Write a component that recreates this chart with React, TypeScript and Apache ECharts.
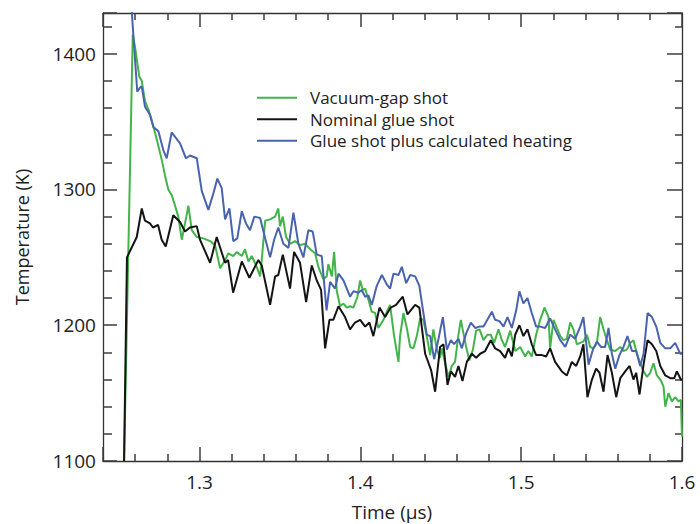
import React, { useEffect, useRef } from "react";
import * as echarts from "echarts";

const seriesNames = [
  "Vacuum-gap shot",
  "Nominal glue shot",
  "Glue shot plus calculated heating",
];

const xTickLabels = ["1.3", "1.4", "1.5", "1.6"];
const yTickLabels = ["1100", "1200", "1300", "1400"];

const vacuumGap = [
  [1.2531, 1100], [1.2585, 1414], [1.2599, 1405], [1.2626, 1383], [1.2641, 1380], [1.2661, 1365],
  [1.2682, 1359], [1.2703, 1351], [1.2734, 1337], [1.2765, 1322], [1.2786, 1310], [1.2806, 1300],
  [1.2827, 1296], [1.2848, 1288], [1.2868, 1280], [1.289, 1263], [1.291, 1275], [1.2931, 1288],
  [1.2952, 1270], [1.2983, 1265], [1.3024, 1264], [1.3066, 1262], [1.3097, 1259], [1.3128, 1242],
  [1.3159, 1248], [1.3179, 1253], [1.321, 1251], [1.3232, 1254], [1.3263, 1251], [1.3283, 1256],
  [1.3304, 1247], [1.3325, 1251], [1.3356, 1243], [1.3377, 1236], [1.3387, 1248], [1.3408, 1277],
  [1.3439, 1278], [1.347, 1280], [1.349, 1286], [1.3501, 1273], [1.3518, 1280], [1.3538, 1265],
  [1.3563, 1260], [1.3594, 1262], [1.3625, 1259], [1.3656, 1260], [1.3688, 1256], [1.3719, 1253],
  [1.3739, 1243], [1.377, 1234], [1.3791, 1236], [1.3801, 1245], [1.3823, 1236], [1.3837, 1254],
  [1.3854, 1225], [1.3874, 1214], [1.3895, 1216], [1.3916, 1213], [1.3936, 1214], [1.3957, 1213],
  [1.3982, 1221], [1.3999, 1233], [1.4015, 1226], [1.403, 1227], [1.405, 1219], [1.4071, 1210],
  [1.4092, 1209], [1.4112, 1198], [1.4144, 1204], [1.4165, 1210], [1.4185, 1215], [1.421, 1192],
  [1.4237, 1173], [1.4247, 1192], [1.4268, 1209], [1.4289, 1198], [1.431, 1184], [1.433, 1183],
  [1.4351, 1192], [1.4372, 1205], [1.4392, 1204], [1.4413, 1192], [1.4434, 1178], [1.4454, 1197],
  [1.4476, 1182], [1.4496, 1176], [1.4507, 1183], [1.4527, 1172], [1.4548, 1162], [1.4569, 1170],
  [1.4589, 1173], [1.461, 1193], [1.4625, 1204], [1.4641, 1194], [1.4658, 1184], [1.4678, 1174],
  [1.47, 1182], [1.472, 1196], [1.4741, 1197], [1.4766, 1189], [1.479, 1193], [1.4811, 1193],
  [1.4832, 1187], [1.4859, 1197], [1.488, 1189], [1.49, 1184], [1.4932, 1196], [1.4963, 1181],
  [1.4994, 1184], [1.5025, 1177], [1.5045, 1181], [1.5066, 1177], [1.5093, 1193], [1.5118, 1204],
  [1.5145, 1213], [1.517, 1206], [1.518, 1183], [1.5201, 1204], [1.5222, 1198], [1.5243, 1192],
  [1.5263, 1189], [1.5284, 1190], [1.5305, 1202], [1.5325, 1197], [1.5346, 1186], [1.5367, 1187],
  [1.5387, 1188], [1.5409, 1193], [1.5429, 1184], [1.545, 1183], [1.5471, 1187], [1.5491, 1206],
  [1.5512, 1197], [1.5533, 1189], [1.5554, 1182], [1.5585, 1181], [1.5616, 1184], [1.5636, 1181],
  [1.5657, 1182], [1.5678, 1187], [1.5698, 1189], [1.572, 1179], [1.574, 1172], [1.5761, 1166],
  [1.5782, 1162], [1.5802, 1165], [1.5823, 1172], [1.5844, 1163], [1.5865, 1160], [1.5885, 1155],
  [1.5896, 1140], [1.5916, 1150], [1.5937, 1144], [1.5958, 1147], [1.5978, 1144], [1.5993, 1145],
  [1.6, 1118],
];

const nominalGlue = [
  [1.2531, 1100], [1.2549, 1250], [1.261, 1265], [1.2641, 1286], [1.2661, 1277], [1.2692, 1275],
  [1.2711, 1272], [1.2742, 1274], [1.2765, 1263], [1.279, 1258], [1.2837, 1281], [1.2879, 1276],
  [1.291, 1269], [1.2941, 1272], [1.2983, 1273], [1.3003, 1263], [1.3066, 1246], [1.3107, 1265],
  [1.3159, 1246], [1.3178, 1248], [1.3209, 1224], [1.3263, 1247], [1.331, 1235], [1.3366, 1248],
  [1.3387, 1244], [1.3439, 1215], [1.347, 1236], [1.349, 1237], [1.3518, 1252], [1.3563, 1227],
  [1.3588, 1254], [1.3625, 1246], [1.3663, 1217], [1.3698, 1244], [1.3729, 1233], [1.3756, 1226],
  [1.3781, 1183], [1.3808, 1204], [1.3832, 1204], [1.3864, 1214], [1.3905, 1206], [1.3936, 1197],
  [1.3967, 1202], [1.3999, 1204], [1.403, 1199], [1.4056, 1202], [1.4081, 1192], [1.4119, 1213],
  [1.4154, 1206], [1.4189, 1213], [1.4222, 1215], [1.4264, 1221], [1.4293, 1208], [1.4341, 1215],
  [1.4367, 1213], [1.4403, 1179], [1.444, 1167], [1.4465, 1151], [1.4496, 1184], [1.4517, 1186],
  [1.4542, 1156], [1.4563, 1166], [1.4589, 1162], [1.461, 1170], [1.4635, 1159], [1.4662, 1173],
  [1.4693, 1179], [1.472, 1176], [1.4745, 1179], [1.4776, 1181], [1.4811, 1189], [1.4838, 1183],
  [1.4869, 1181], [1.49, 1176], [1.4921, 1183], [1.4942, 1177], [1.4963, 1193], [1.4989, 1200],
  [1.5014, 1192], [1.5039, 1197], [1.5066, 1186], [1.5093, 1178], [1.5129, 1178], [1.5155, 1177],
  [1.518, 1183], [1.5211, 1173], [1.5253, 1166], [1.5284, 1163], [1.5315, 1173], [1.5342, 1170],
  [1.5367, 1177], [1.5387, 1186], [1.5412, 1147], [1.544, 1160], [1.5466, 1168], [1.5487, 1165],
  [1.5512, 1151], [1.5537, 1178], [1.5564, 1165], [1.5591, 1147], [1.5616, 1161], [1.5647, 1166],
  [1.5674, 1170], [1.5698, 1160], [1.5715, 1165], [1.5736, 1149], [1.5761, 1171], [1.5786, 1189],
  [1.5813, 1186], [1.584, 1181], [1.5865, 1170], [1.5896, 1163], [1.5927, 1161], [1.5952, 1161],
  [1.5968, 1166], [1.5993, 1160], [1.6, 1160],
];

const glueHeated = [
  [1.2571, 1445], [1.2588, 1415], [1.2613, 1372], [1.263, 1375], [1.2641, 1376], [1.2661, 1361],
  [1.2692, 1355], [1.2713, 1346], [1.2744, 1343], [1.2775, 1329], [1.2796, 1323], [1.2827, 1342],
  [1.2879, 1334], [1.2916, 1323], [1.2941, 1325], [1.2983, 1323], [1.3014, 1299], [1.3055, 1285],
  [1.3086, 1297], [1.3111, 1308], [1.3138, 1301], [1.3159, 1278], [1.3186, 1286], [1.321, 1262],
  [1.3235, 1264], [1.3263, 1284], [1.3289, 1275], [1.3314, 1270], [1.3341, 1280], [1.3377, 1279],
  [1.3408, 1264], [1.3439, 1250], [1.3464, 1263], [1.349, 1272], [1.3521, 1260], [1.3553, 1257],
  [1.3584, 1283], [1.3615, 1260], [1.3646, 1250], [1.3677, 1270], [1.3704, 1269], [1.3729, 1252],
  [1.376, 1251], [1.379, 1211], [1.3812, 1232], [1.3843, 1227], [1.3864, 1238], [1.3895, 1233],
  [1.3916, 1227], [1.3936, 1221], [1.3957, 1225], [1.3988, 1224], [1.4009, 1226], [1.403, 1221],
  [1.405, 1222], [1.4071, 1215], [1.4102, 1229], [1.4134, 1237], [1.4165, 1230], [1.4185, 1227],
  [1.4206, 1238], [1.4237, 1237], [1.4258, 1243], [1.4285, 1231], [1.431, 1237], [1.4341, 1236],
  [1.4367, 1229], [1.4392, 1209], [1.4413, 1193], [1.4434, 1192], [1.4459, 1175], [1.4486, 1190],
  [1.4513, 1206], [1.4538, 1182], [1.4563, 1189], [1.4583, 1186], [1.461, 1190], [1.4631, 1183],
  [1.4658, 1194], [1.4687, 1202], [1.4714, 1198], [1.4741, 1199], [1.4766, 1199], [1.479, 1204],
  [1.4818, 1210], [1.4838, 1204], [1.4865, 1203], [1.489, 1199], [1.4915, 1206], [1.4942, 1198],
  [1.4969, 1211], [1.4989, 1225], [1.5014, 1216], [1.5039, 1220], [1.5066, 1209], [1.5093, 1199],
  [1.5118, 1199], [1.5149, 1198], [1.518, 1205], [1.5211, 1197], [1.5243, 1189], [1.5274, 1184],
  [1.5305, 1193], [1.5336, 1190], [1.5367, 1199], [1.5387, 1206], [1.5419, 1171], [1.5446, 1182],
  [1.5471, 1188], [1.5496, 1184], [1.5522, 1184], [1.5543, 1198], [1.5564, 1179], [1.5585, 1168],
  [1.5611, 1178], [1.5636, 1184], [1.5661, 1192], [1.5689, 1181], [1.5715, 1181], [1.574, 1170],
  [1.5761, 1179], [1.5786, 1209], [1.5813, 1206], [1.584, 1199], [1.5865, 1187], [1.5896, 1183],
  [1.5927, 1183], [1.5958, 1187], [1.5989, 1179], [1.6, 1179],
];

const seriesColors = ["#43b44a", "#141414", "#4a63ae"];
const FONT = "'Open Sans', 'DejaVu Sans', sans-serif";

export default function App() {
  const ref = useRef<HTMLDivElement>(null);
  useEffect(() => {
    if (!ref.current) return;
    const chart = echarts.init(ref.current, undefined, { renderer: "svg" });
    const axisLineStyle = { color: "#333333", width: 1.3 };
    const tickStyle = () => ({ color: "rgb(60,60,60)", width: 1.5 });
    const xFmt = (v: number) => {
      const s = String(Math.round(v * 1000) / 1000);
      return xTickLabels.includes(s) ? s : "";
    };
    const yFmt = (v: number) => {
      const s = String(Math.round(v));
      return yTickLabels.includes(s) ? s : "";
    };
    const xBase = () => ({
      type: "value",
      min: 1.24,
      max: 1.6,
      splitLine: { show: false },
      axisLine: { show: true, onZero: false, lineStyle: { ...axisLineStyle } },
      axisTick: { show: true, inside: true, length: 14, lineStyle: tickStyle() },
      minorTick: { show: true, splitNumber: 5, length: 7, lineStyle: tickStyle() },
    });
    const yBase = () => ({
      type: "value",
      min: 1100,
      max: 1430,
      interval: 100,
      splitLine: { show: false },
      axisLine: { show: true, onZero: false, lineStyle: { ...axisLineStyle } },
    });
    const data = [vacuumGap, nominalGlue, glueHeated];
    chart.setOption({
      animation: false,
      grid: { left: 103, right: 18, top: 13, bottom: 63 },
      legend: {
        orient: "vertical",
        left: 257,
        top: 87,
        padding: 0,
        itemGap: 0,
        itemWidth: 40,
        itemHeight: 2,
        icon: "rect",
        data: seriesNames,
        textStyle: {
          fontSize: 17,
          fontFamily: FONT,
          color: "#222",
          lineHeight: 21.5,
          padding: [0, 0, 0, 8],
        },
      },
      xAxis: [
        {
          ...xBase(),
          position: "bottom",
          axisLabel: {
            fontSize: 19,
            fontFamily: FONT,
            color: "#222",
            margin: 11,
            formatter: xFmt,
          },
        },
        {
          ...xBase(),
          position: "top",
          axisLabel: { show: true, formatter: () => "" },
        },
      ],
      yAxis: [
        {
          ...yBase(),
          position: "left",
          axisTick: { show: true, inside: true, length: 14, lineStyle: tickStyle() },
          minorTick: { show: true, splitNumber: 5, length: 9, lineStyle: tickStyle() },
          axisLabel: {
            fontSize: 19,
            fontFamily: FONT,
            color: "#222",
            margin: 7,
            formatter: yFmt,
          },
        },
        {
          ...yBase(),
          position: "right",
          axisTick: { show: true, inside: true, length: 15, lineStyle: tickStyle() },
          minorTick: { show: true, splitNumber: 5, length: 7, lineStyle: tickStyle() },
          axisLabel: { show: true, formatter: () => "" },
        },
      ],
      graphic: [
        {
          type: "text",
          x: 22,
          y: 237,
          rotation: Math.PI / 2,
          style: {
            text: "Temperature (K)",
            fontSize: 18,
            fontFamily: FONT,
            fill: "#222",
            align: "center",
            verticalAlign: "middle",
          },
        },
        {
          type: "text",
          x: 392,
          y: 512,
          style: {
            text: "Time (μs)",
            fontSize: 19,
            fontFamily: FONT,
            fill: "#222",
            align: "center",
            verticalAlign: "middle",
          },
        },
      ],
      series: seriesNames.map((name, i) => ({
        name,
        type: "line",
        xAxisIndex: 0,
        yAxisIndex: 0,
        data: data[i],
        showSymbol: false,
        symbol: "none",
        clip: true,
        lineStyle: { color: seriesColors[i], width: 2 },
        itemStyle: { color: seriesColors[i] },
      })),
    });
    return () => chart.dispose();
  }, []);
  return (
    <div
      ref={ref}
      style={{ position: "fixed", left: 0, top: 0, width: 700, height: 524, background: "#fff" }}
    />
  );
}
